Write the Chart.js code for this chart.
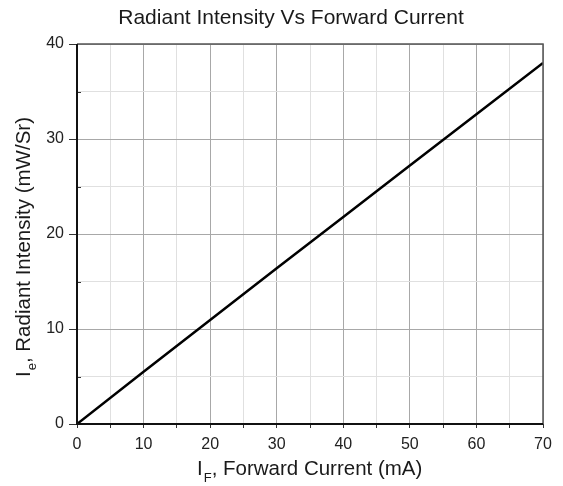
<!DOCTYPE html>
<html>
<head>
<meta charset="utf-8">
<script src="https://cdn.jsdelivr.net/npm/chart.js@4"></script>
<style>
  html, body { margin: 0; padding: 0; background: #fff; }
  #wrap { width: 563px; height: 486px; position: relative; }
</style>
</head>
<body>
<div id="wrap"><canvas id="c"></canvas></div>
<script>
const chartTitle = 'Radiant Intensity Vs Forward Current';
const xTitleMain = 'I';
const xTitleSub = 'F';
const xTitleRest = ', Forward Current (mA)';
const yTitleMain = 'I';
const yTitleSub = 'e';
const yTitleRest = ', Radiant Intensity (mW/Sr)';

const forwardCurrent = [0, 10, 20, 30, 40, 50, 60, 70];
const radiantIntensity = [0, 5.5, 10.95, 16.4, 21.8, 27.2, 32.6, 38.0];

const xMin = 0, xMax = 70, xStep = 5, xLabelStep = 10;
const yMin = 0, yMax = 40, yStep = 5, yLabelStep = 10;

const FONT = '"Liberation Sans", Arial, sans-serif';

function isMajor(v, step) { return Math.abs(v / step - Math.round(v / step)) < 1e-6; }

const decorPlugin = {
  id: 'decor',
  beforeDatasetsDraw(chart) {
    const ctx = chart.ctx, a = chart.chartArea;
    const ys = chart.scales.y;
    ctx.save();
    ctx.strokeStyle = '#333';
    ctx.lineWidth = 1;
    for (let v = yMin; v <= yMax; v += yStep) {
      if (!isMajor(v, yLabelStep)) {
        const py = Math.round(ys.getPixelForValue(v)) + 0.5;
        ctx.beginPath(); ctx.moveTo(a.left, py); ctx.lineTo(a.left + 4, py); ctx.stroke();
      }
    }
    ctx.restore();
  },
  afterDraw(chart) {
    const ctx = chart.ctx, a = chart.chartArea;
    ctx.save();
    ctx.strokeStyle = '#555';
    ctx.lineWidth = 1.5;
    ctx.beginPath();
    ctx.moveTo(a.left, a.top); ctx.lineTo(a.right, a.top); ctx.lineTo(a.right, a.bottom);
    ctx.stroke();
    ctx.strokeStyle = '#111';
    ctx.lineWidth = 2;
    ctx.beginPath();
    ctx.moveTo(a.left, a.top); ctx.lineTo(a.left, a.bottom); ctx.lineTo(a.right, a.bottom);
    ctx.stroke();

    ctx.fillStyle = '#1a1a1a';
    ctx.font = '21px ' + FONT;
    ctx.textAlign = 'center';
    ctx.textBaseline = 'alphabetic';
    ctx.fillText(chartTitle, 291, 24);

    const mainF = '20.5px ' + FONT, subF = '13px ' + FONT;
    ctx.font = mainF; const w1 = ctx.measureText(xTitleMain).width;
    ctx.font = subF; const w2 = ctx.measureText(xTitleSub).width;
    let x0 = 197;
    ctx.textAlign = 'left';
    ctx.font = mainF; ctx.fillText(xTitleMain, x0, 475);
    ctx.font = subF; ctx.fillText(xTitleSub, x0 + w1 + 1, 482);
    ctx.font = mainF; ctx.fillText(xTitleRest, x0 + w1 + w2 + 1, 475);

    ctx.save();
    ctx.translate(30, 377);
    ctx.rotate(-Math.PI / 2);
    const mainY = '20.5px ' + FONT, subY = '13px ' + FONT;
    ctx.font = mainY; const v1 = ctx.measureText(yTitleMain).width;
    ctx.font = subY; const v2 = ctx.measureText(yTitleSub).width;
    ctx.font = mainY; ctx.fillText(yTitleMain, 0, 0);
    ctx.font = subY; ctx.fillText(yTitleSub, v1 + 1, 6);
    ctx.font = mainY; ctx.fillText(yTitleRest, v1 + v2 + 1, 0);
    ctx.restore();
    ctx.restore();
  }
};

const leftEdge = 77, rightEdge = 543, topEdge = 44, bottomEdge = 424;
const W = 563, H = 486;

new Chart(document.getElementById('c'), {
  type: 'line',
  data: {
    datasets: [{
      data: forwardCurrent.map((x, i) => ({ x: x, y: radiantIntensity[i] })),
      borderColor: '#000',
      borderWidth: 2.5,
      pointRadius: 0,
      tension: 0,
      fill: false
    }]
  },
  options: {
    responsive: true,
    maintainAspectRatio: false,
    animation: false,
    devicePixelRatio: 1,
    layout: { padding: { top: topEdge, right: W - rightEdge, left: 0, bottom: 0 } },
    plugins: { legend: { display: false }, title: { display: false }, tooltip: { enabled: false } },
    scales: {
      x: {
        type: 'linear',
        min: xMin, max: xMax,
        afterFit(scale) { scale.height = H - bottomEdge; },
        border: { display: false },
        grid: {
          color: ctx => isMajor(ctx.tick.value, xLabelStep) ? '#a8a8a8' : '#e0e0e0',
          tickColor: '#333',
          tickLength: 4,
          lineWidth: 1,
          drawTicks: true
        },
        ticks: {
          stepSize: xStep,
          autoSkip: false,
          maxRotation: 0,
          padding: 7,
          color: '#222',
          font: { family: FONT, size: 16 },
          callback: v => isMajor(v, xLabelStep) ? String(v) : ''
        }
      },
      y: {
        type: 'linear',
        min: yMin, max: yMax,
        afterFit(scale) { scale.width = leftEdge; },
        border: { display: false },
        grid: {
          color: ctx => isMajor(ctx.tick.value, yLabelStep) ? '#a8a8a8' : '#e0e0e0',
          tickColor: ctx => isMajor(ctx.tick.value, yLabelStep) ? '#333' : 'rgba(0,0,0,0)',
          tickLength: 8,
          lineWidth: 1
        },
        ticks: {
          stepSize: yStep,
          autoSkip: false,
          padding: 5,
          color: '#222',
          font: { family: FONT, size: 16 },
          callback: v => isMajor(v, yLabelStep) ? String(v) : ''
        }
      }
    }
  },
  plugins: [decorPlugin]
});
</script>
</body>
</html>
